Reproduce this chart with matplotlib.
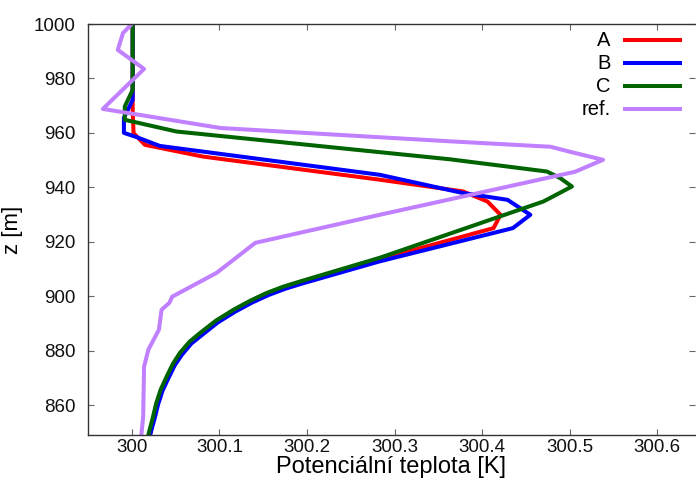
import matplotlib
matplotlib.use("Agg")
import matplotlib.pyplot as plt
from matplotlib.ticker import FormatStrFormatter

plt.rcParams['font.family'] = ['Liberation Sans', 'DejaVu Sans']

# Profily potenciální teploty (z [m], theta [K])
z_A = [1000, 968.4, 959.9, 955.6, 951.3, 942.8, 938.5, 934.8, 929.9, 925.0, 913.6,
       905.2, 903.3, 901.0, 898.1, 894.8, 890.8, 886.3, 883.1, 879.0, 875.0, 870.4, 865.5, 860.6, 855.2, 849.2]
t_A = [300.001, 300.001, 300.002, 300.015, 300.081, 300.283, 300.378, 300.406, 300.421, 300.413, 300.283,
       300.193, 300.174, 300.155, 300.136, 300.117, 300.097, 300.079, 300.067, 300.056, 300.048, 300.041, 300.034, 300.029, 300.025, 300.021]

z_B = [1000, 972.1, 965.5, 960.0, 958.5, 955.2, 944.6, 937.9, 935.4, 929.9, 925.0, 912.8,
       904.6, 902.7, 900.4, 897.6, 894.3, 890.3, 885.7, 882.6, 878.4, 874.6, 870.0, 865.2, 860.2, 855.0, 849.2]
t_B = [300.001, 300.001, 299.991, 299.991, 300.005, 300.032, 300.283, 300.378, 300.429, 300.455, 300.435, 300.283,
       300.194, 300.175, 300.156, 300.137, 300.118, 300.098, 300.080, 300.068, 300.057, 300.049, 300.042, 300.035, 300.030, 300.026, 300.021]

z_C = [1000, 975.8, 969.7, 964.8, 960.5, 950.3, 945.8, 943.4, 940.3, 934.8, 914.1,
       905.4, 903.5, 901.2, 898.3, 895.0, 891.0, 886.5, 883.3, 879.2, 875.2, 870.6, 865.7, 860.8, 855.4, 849.2]
t_C = [300.001, 300.001, 299.992, 299.992, 300.051, 300.363, 300.474, 300.489, 300.5025, 300.470, 300.283,
       300.192, 300.173, 300.154, 300.135, 300.116, 300.096, 300.078, 300.066, 300.055, 300.047, 300.040, 300.033, 300.028, 300.024, 300.019]

z_ref = [1000, 996.7, 990.5, 983.5, 968.8, 961.8, 956.9, 954.9, 953.0, 950.1, 945.7,
         929.9, 919.6, 908.6, 899.8, 897.6, 895.0, 887.7, 880.4, 874.1, 855.8, 849.2]
t_ref = [300.000, 299.990, 299.984, 300.014, 299.967, 300.101, 300.363, 300.478, 300.501, 300.538, 300.506,
         300.283, 300.141, 300.097, 300.046, 300.043, 300.034, 300.031, 300.019, 300.014, 300.013, 300.011]

labels = ['A', 'B', 'C', 'ref.']
colors = ['#ff0000', '#0000ff', '#006400', '#c080ff']
x_ticks = [300.0, 300.1, 300.2, 300.3, 300.4, 300.5, 300.6]
y_ticks = [860, 880, 900, 920, 940, 960, 980, 1000]

fig = plt.figure(figsize=(6.96, 4.8), dpi=100)
ax = fig.add_axes([88 / 696, 45 / 480, 607 / 696, 411 / 480])

series = [(t_A, z_A), (t_B, z_B), (t_C, z_C), (t_ref, z_ref)]
for (t, z), c in zip(series, colors):
    ax.plot(t, z, color=c, lw=2.9)

ax.set_xlim(299.95, 300.643)
ax.set_ylim(849, 1000)
ax.set_xticks(x_ticks)
ax.set_yticks(y_ticks)
ax.xaxis.set_major_formatter(FormatStrFormatter('%g'))

ax.tick_params(direction='in', length=4, width=0.8, color='#666666',
               top=True, right=True, labelsize=13.5, labelcolor='#111111')
ax.tick_params(axis='x', pad=3)
ax.tick_params(axis='y', pad=9)
for s in ax.spines.values():
    s.set_color('#333333')
    s.set_linewidth(1.0)
ax.spines['right'].set_visible(False)

ax.set_xlabel('Potenciální teplota [K]', fontsize=17, labelpad=0)
ax.set_ylabel('z [m]', fontsize=16, labelpad=8)

# legenda ve stylu gnuplotu: text vpravo zarovnaný, vzorek čáry za ním
for i, (lab, c) in enumerate(zip(labels, colors)):
    yy = 0.961 - i * 0.056
    ax.text(0.861, yy, lab, transform=ax.transAxes, ha='right', va='center', fontsize=14.5)
    ax.plot([0.881, 0.979], [yy, yy], transform=ax.transAxes, color=c, lw=2.9,
            solid_capstyle='butt', clip_on=False)

fig.savefig('out.png', dpi=100)
